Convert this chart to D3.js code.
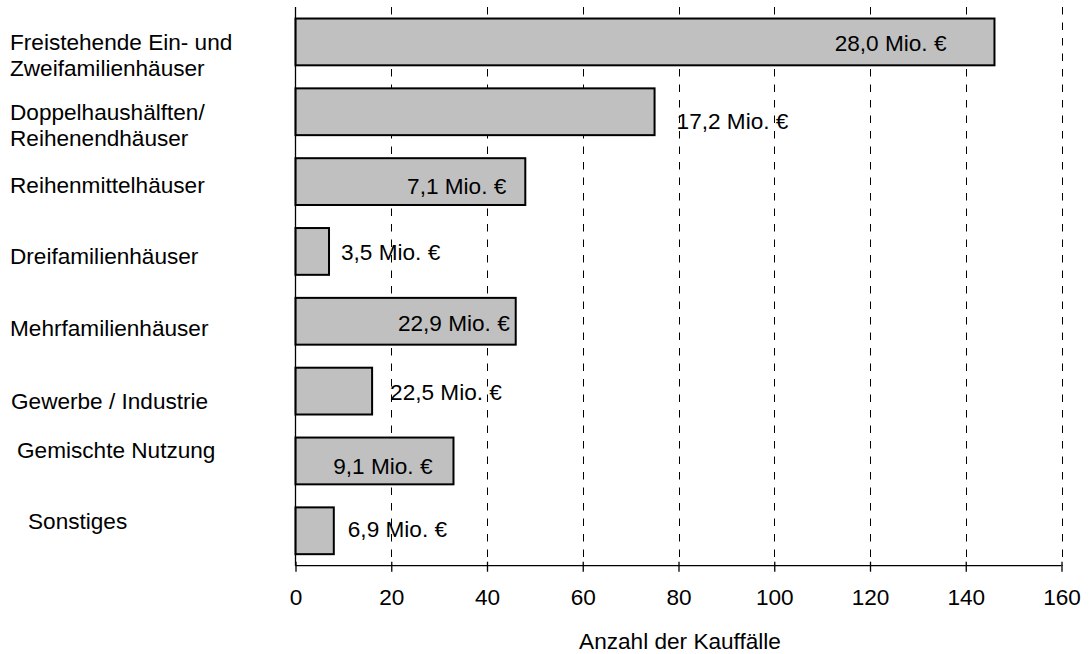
<!DOCTYPE html>
<html>
<head>
<meta charset="utf-8">
<script src="https://cdn.jsdelivr.net/npm/d3@7/dist/d3.min.js"></script>
<style>
  html, body { margin: 0; padding: 0; background: #ffffff; }
  svg { display: block; }
  text { font-family: "Liberation Sans", Arial, Helvetica, sans-serif; fill: #000; }
</style>
</head>
<body>
<svg id="chart" width="1091" height="654"></svg>
<script>
// ---- data ----
const categories = [
  ["Freistehende Ein- und", "Zweifamilienhäuser"],
  ["Doppelhaushälften/", "Reihenendhäuser"],
  ["Reihenmittelhäuser"],
  ["Dreifamilienhäuser"],
  ["Mehrfamilienhäuser"],
  ["Gewerbe / Industrie"],
  ["Gemischte Nutzung"],
  ["Sonstiges"]
];
const counts = [146, 75, 48, 7, 46, 16, 33, 8];
const volumeLabels = ["28,0 Mio. €", "17,2 Mio. €", "7,1 Mio. €", "3,5 Mio. €", "22,9 Mio. €", "22,5 Mio. €", "9,1 Mio. €", "6,9 Mio. €"];
const xTicks = [0, 20, 40, 60, 80, 100, 120, 140, 160];
const xTitle = "Anzahl der Kauffälle";

// ---- layout (positions/styles, kept apart from data) ----
const valueLabelLayout = [
  {inside: true,  dx: -48, dy: 1},
  {inside: false, dx: 22,  dy: 9},
  {inside: true,  dx: -19, dy: 4.5},
  {inside: false, dx: 12,  dy: 0},
  {inside: true,  dx: -6,  dy: 1.5},
  {inside: false, dx: 18,  dy: 0.5},
  {inside: true,  dx: -21, dy: 5},
  {inside: false, dx: 14,  dy: -1.5}
];
const catLabelLayout = [
  {x: 10, dy: 0.2},
  {x: 10, dy: 0.5},
  {x: 10, dy: 3.5},
  {x: 10, dy: 4.8},
  {x: 10, dy: 7},
  {x: 11, dy: 9.7},
  {x: 17, dy: -11},
  {x: 28, dy: -9.7}
];

const W = 1091, H = 654;
const margin = {left: 295.5, right: W - 1061.5, top: 7, bottom: H - 565.7};
const fontSize = 22.6;
const capShift = fontSize * 0.358;

const svg = d3.select("#chart");

const x = d3.scaleLinear().domain([0, 160]).range([margin.left, W - margin.right]);
const y = d3.scaleBand().domain(d3.range(counts.length)).range([margin.top, H - margin.bottom]).paddingInner(0.33).paddingOuter(0.165);

// gridlines
svg.append("g").selectAll("line")
  .data(xTicks.filter(d => d > 0))
  .join("line")
  .attr("x1", d => Math.round(x(d)) + 0.5)
  .attr("x2", d => Math.round(x(d)) + 0.5)
  .attr("y1", margin.top)
  .attr("y2", H - margin.bottom)
  .attr("stroke", "#000")
  .attr("stroke-width", 1)
  .attr("stroke-dasharray", "7.5,8");

// bars
svg.append("g").selectAll("rect")
  .data(counts)
  .join("rect")
  .attr("x", x(0))
  .attr("y", (d, i) => y(i))
  .attr("width", d => x(d) - x(0))
  .attr("height", y.bandwidth())
  .attr("fill", "#c0c0c0")
  .attr("stroke", "#000")
  .attr("stroke-width", 2);

// y axis line
svg.append("line")
  .attr("x1", x(0)).attr("x2", x(0))
  .attr("y1", margin.top).attr("y2", H - margin.bottom)
  .attr("stroke", "#000").attr("stroke-width", 1.3);

// x axis
const xAxis = d3.axisBottom(x).tickValues(xTicks).tickSize(6).tickPadding(14).tickFormat(d3.format("d"));
const gx = svg.append("g")
  .attr("transform", `translate(0,${H - margin.bottom})`)
  .call(xAxis);
gx.select(".domain").attr("stroke", "#000").attr("stroke-width", 1.3).attr("d", `M${x(0)},0H${x(160)}`);
gx.selectAll(".tick line").attr("stroke", "#000").attr("stroke-width", 1.3).attr("y1", -4);
gx.selectAll(".tick text")
  .attr("font-size", fontSize)
  .attr("font-family", "Liberation Sans, Arial, sans-serif")
  .attr("fill", "#000")
  .attr("dy", null)
  .attr("y", 596.7 - (H - margin.bottom) + capShift);

// x title
svg.append("text")
  .attr("x", 680)
  .attr("y", 641 + capShift)
  .attr("text-anchor", "middle")
  .attr("font-size", fontSize)
  .text(xTitle);

// value labels
svg.append("g").selectAll("text")
  .data(counts)
  .join("text")
  .attr("x", (d, i) => x(d) + valueLabelLayout[i].dx)
  .attr("y", (d, i) => y(i) + y.bandwidth() / 2 + valueLabelLayout[i].dy + capShift)
  .attr("text-anchor", (d, i) => valueLabelLayout[i].inside ? "end" : "start")
  .attr("font-size", fontSize)
  .text((d, i) => volumeLabels[i]);

// category labels
svg.append("g").selectAll("text")
  .data(categories)
  .join("text")
  .attr("font-size", fontSize)
  .each(function(d, i) {
    const t = d3.select(this);
    const base = y(i) + y.bandwidth() / 2 + catLabelLayout[i].dy + capShift;
    d.forEach((line, k) => {
      t.append("tspan")
        .attr("x", catLabelLayout[i].x)
        .attr("y", base + k * 25.5)
        .text(line);
    });
  });
</script>
</body>
</html>
